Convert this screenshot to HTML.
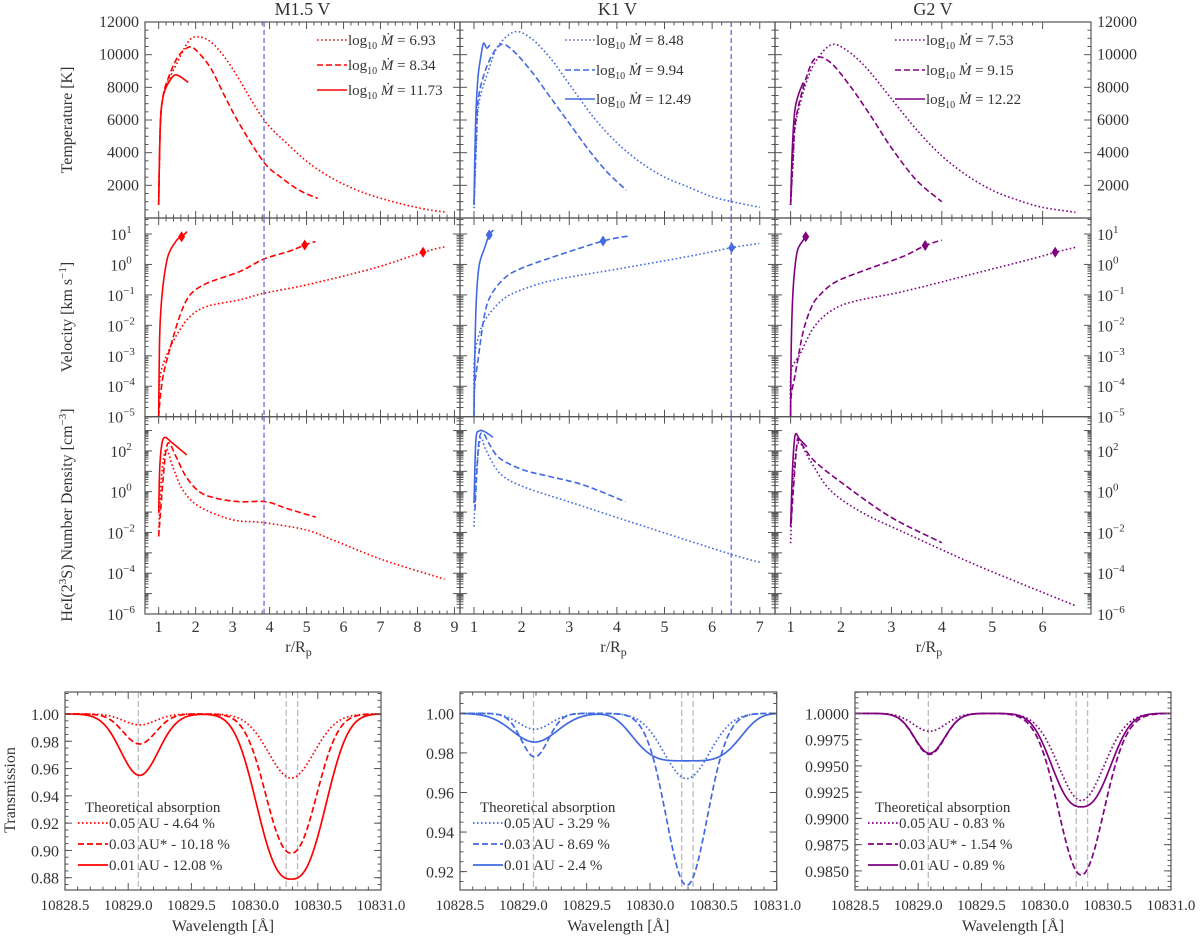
<!DOCTYPE html>
<html><head><meta charset="utf-8"><style>
html,body{margin:0;padding:0;background:#fff}
svg{display:block}
svg text{font-family:"Liberation Serif",serif !important;fill:#333}
</style></head><body>
<svg id="fig" width="1200" height="937" viewBox="0 0 1200 937" xmlns="http://www.w3.org/2000/svg" font-family="Liberation Serif, serif">
<rect width="1200" height="937" fill="#fff"/>
<g id="layer"></g>
</svg>
<script>
// ===== Data: M1.5 V =====
const M_temp_dot_r=[1.0,1.02,1.05,1.1,1.2,1.5,1.8,2.05,2.4,2.8,3.2,3.85,4.5,5.1,5.8,6.6,7.5,8.3,8.8];
const M_temp_dot=[800,3500,6000,7200,8100,9500,10800,11100,10800,9800,8400,6000,4500,3300,2300,1500,900,500,350];
const M_temp_dash_r=[1.0,1.02,1.05,1.1,1.2,1.5,1.8,2.0,2.4,2.8,3.2,3.85,4.3,4.8,5.3];
const M_temp_dash=[800,3500,6000,7200,8200,9800,10450,10300,9200,7400,5700,3400,2500,1700,1200];
const M_temp_sol_r=[1.0,1.02,1.05,1.1,1.2,1.4,1.55,1.8];
const M_temp_sol=[800,3500,6000,7200,8000,8700,8700,8300];
const M_vel_sol_r=[1.0,1.02,1.05,1.13,1.26,1.49,1.62,1.77];
const M_vel_sol=[-5,-2.75,-1.66,-0.56,0.31,0.8,0.91,1.08];
const M_vel_dash_r=[1.0,1.04,1.13,1.31,1.58,1.85,2.3,3.2,3.83,4.55,4.95,5.24];
const M_vel_dash=[-5,-4.4,-3.6,-2.75,-1.66,-1.0,-0.62,-0.23,0.17,0.44,0.64,0.75];
const M_vel_dot_r=[1.0,1.05,1.22,1.49,1.85,2.3,3.2,3.83,5.0,6.8,8.15,8.74];
const M_vel_dot=[-4.5,-3.6,-2.97,-2.31,-1.71,-1.38,-1.16,-0.95,-0.67,-0.13,0.4,0.58];
const M_sonic_r=[1.62,4.95,8.15];
const M_sonic=[0.91,0.64,0.4];
const M_den_sol_r=[1.0,1.03,1.09,1.17,1.33,1.76];
const M_den_sol=[-1.04,1.23,2.38,2.67,2.46,1.8];
const M_den_dash_r=[1.0,1.11,1.2,1.29,1.47,1.74,2.1,2.55,3.18,3.9,4.44,5.25];
const M_den_dash=[-2.2,0.43,2.05,2.38,1.72,0.74,0.0,-0.32,-0.49,-0.49,-0.81,-1.25];
const M_den_dot_r=[1.0,1.08,1.2,1.38,1.65,2.1,3.0,3.81,4.98,5.7,7.06,8.73];
const M_den_dot=[-1.95,0.8,2.1,1.23,0.09,-0.73,-1.38,-1.51,-1.87,-2.36,-3.34,-4.29];
// ===== Data: K1 V =====
const K_temp_dot_r=[1.0,1.05,1.1,1.3,1.5,1.85,2.2,2.6,3.0,3.5,4.0,4.5,5.0,5.5,6.0,6.5,7.0];
const K_temp_dot=[600,4500,7000,9000,10500,11400,11000,9800,8200,6200,4600,3400,2500,1900,1300,950,650];
const K_temp_dash_r=[1.0,1.05,1.1,1.3,1.55,1.8,2.2,2.6,3.0,3.4,3.8,4.2];
const K_temp_dash=[800,5000,7500,9500,10600,10300,9000,7400,5800,4200,2800,1700];
const K_temp_sol_r=[1.0,1.03,1.08,1.15,1.2,1.27,1.33];
const K_temp_sol=[800,5500,8500,10000,10700,10400,10600];
const K_vel_sol_r=[1.0,1.02,1.05,1.11,1.22,1.32,1.41];
const K_vel_sol=[-5,-2.75,-1.11,-0.02,0.53,0.97,1.13];
const K_vel_dash_r=[1.0,1.01,1.08,1.22,1.36,1.64,1.99,2.69,3.71,4.23];
const K_vel_dash=[-5,-4.06,-3.19,-1.66,-1.0,-0.45,-0.13,0.26,0.77,0.93];
const K_vel_dot_r=[1.0,1.01,1.15,1.36,1.64,1.99,2.69,4.09,5.49,6.41,6.99];
const K_vel_dot=[-4.6,-3.08,-2.09,-1.55,-1.11,-0.84,-0.51,-0.13,0.26,0.55,0.69];
const K_sonic_r=[1.32,3.71,6.41];
const K_sonic=[0.97,0.77,0.55];
const K_den_sol_r=[1.0,1.04,1.11,1.22,1.4];
const K_den_sol=[-0.56,2.54,2.98,2.95,2.67];
const K_den_dash_r=[1.02,1.1,1.19,1.33,1.54,2.03,2.6,3.3,4.18];
const K_den_dash=[-0.9,2.38,2.87,2.3,1.64,1.07,0.74,0.33,-0.49];
const K_den_dot_r=[1.0,1.05,1.14,1.25,1.54,2.03,3.08,4.48,6.37,7.0];
const K_den_dot=[-1.71,1.0,2.62,2.05,0.91,0.25,-0.56,-1.63,-3.05,-3.46];
// ===== Data: G2 V =====
const G_temp_dot_r=[1.0,1.05,1.1,1.3,1.5,1.8,2.1,2.5,3.0,3.5,4.0,4.5,5.0,5.5,6.0,6.65];
const G_temp_dot=[800,3500,5800,8200,9600,10600,10300,9200,7300,5400,3800,2600,1700,1100,650,350];
const G_temp_dash_r=[1.0,1.05,1.1,1.3,1.5,1.8,2.2,2.6,3.0,3.5,4.0];
const G_temp_dash=[800,3800,6000,8500,9800,9500,8000,6200,4300,2300,1000];
const G_temp_sol_r=[1.0,1.03,1.08,1.15,1.25];
const G_temp_sol=[800,4000,6500,7500,8300];
const G_vel_sol_r=[1.0,1.01,1.04,1.09,1.15,1.3,1.33];
const G_vel_sol=[-5,-2.9,-1.11,-0.02,0.53,0.91,0.97];
const G_vel_dash_r=[1.0,1.01,1.09,1.25,1.42,1.58,1.91,2.57,3.23,3.67,4.0];
const G_vel_dash=[-5,-4.33,-3.62,-2.2,-1.38,-1.0,-0.56,-0.13,0.26,0.62,0.8];
const G_vel_dot_r=[1.0,1.01,1.18,1.45,1.78,2.24,3.23,4.55,5.87,6.25,6.65];
const G_vel_dot=[-4.8,-3.51,-2.97,-2.09,-1.55,-1.22,-0.89,-0.34,0.22,0.4,0.56];
const G_sonic_r=[1.3,3.67,6.25];
const G_sonic=[0.91,0.62,0.4];
const G_den_sol_r=[1.0,1.04,1.09,1.18,1.32];
const G_den_sol=[-1.71,1.23,2.78,2.57,2.21];
const G_den_dash_r=[1.01,1.12,1.18,1.45,1.98,2.97,4.0];
const G_den_dash=[-1.5,2.21,2.45,1.56,0.5,-1.22,-2.5];
const G_den_dot_r=[1.0,1.05,1.15,1.38,1.78,2.44,3.43,4.75,6.66];
const G_den_dot=[-2.53,0.5,2.38,1.56,0.09,-1.05,-2.2,-3.67,-5.6];
// ===== Transmission line parameters (per series: dotted, dashed, solid) =====
const lineCenters=[10829.09,10830.29];
const markerLines=[10829.08,10830.25,10830.34];
const M_depthWeak=[0.008,0.022,0.045];
const M_depthStrong=[0.047,0.102,0.121];
const M_fwhmWeak=[0.3,0.3,0.35];
const M_fwhmStrong=[0.42,0.45,0.58];
const M_shape=[2,2.2,2.6];
const K_depthWeak=[0.008,0.022,0.0145];
const K_depthStrong=[0.033,0.087,0.024];
const K_fwhmWeak=[0.3,0.25,0.42];
const K_fwhmStrong=[0.42,0.38,0.85];
const K_shape=[2,2,4];
const P_depthWeak=[0.0017,0.0039,0.0038];
const P_depthStrong=[0.0083,0.0154,0.0089];
const P_fwhmWeak=[0.3,0.28,0.28];
const P_fwhmStrong=[0.42,0.42,0.5];
const P_shape=[2,2,2.5];
const M_legend=["0.05 AU - 4.64 %","0.03 AU* - 10.18 %","0.01 AU - 12.08 %"];
const K_legend=["0.05 AU - 3.29 %","0.03 AU - 8.69 %","0.01 AU - 2.4 %"];
const P_legend=["0.05 AU - 0.83 %","0.03 AU* - 1.54 %","0.01 AU - 0.89 %"];
const mdotM=["6.93","8.34","11.73"];
const mdotK=["8.48","9.94","12.49"];
const mdotG=["7.53","9.15","12.22"];
const titles=["M1.5 V","K1 V","G2 V"];
const tempTicks=[2000,4000,6000,8000,10000,12000];
const velTicks=[1,0,-1,-2,-3,-4,-5];
const denTicks=[2,0,-2,-4,-6];

const NS="http://www.w3.org/2000/svg";
const layer=document.getElementById('layer');
function mk(tag,attrs,parent){const e=document.createElementNS(NS,tag);for(const k in attrs)e.setAttribute(k,attrs[k]);(parent||layer).appendChild(e);return e;}
const AX="#555";
const RED="#ff0000",BLUE="#4169e1",PUR="#800080";
const DASH={dot:"1.6,2.4",dash:"6,3",sol:"none"};

function scales(o){
  o.sx=v=>o.x0+(v-o.xmin)/(o.xmax-o.xmin)*(o.x1-o.x0);
  o.sy=v=>o.y1-(v-o.ymin)/(o.ymax-o.ymin)*(o.y1-o.y0);
  return o;
}
function frame(o,name){
  const r=mk('rect',{x:o.x0,y:o.y0,width:o.x1-o.x0,height:o.y1-o.y0,fill:'none',stroke:AX,'stroke-width':1.2});
  
  
}
function tick(x1,y1,x2,y2){mk('line',{x1,y1,x2,y2,stroke:AX,'stroke-width':1});}
function xTicks(o,majors,minors,both){
  majors.forEach(v=>{const x=o.sx(v);tick(x,o.y1,x,o.y1-7);if(both)tick(x,o.y0,x,o.y0+7);});
  minors.forEach(v=>{const x=o.sx(v);tick(x,o.y1,x,o.y1-3.5);if(both)tick(x,o.y0,x,o.y0+3.5);});
}
function yTicks(o,majors,minors,both){
  majors.forEach(v=>{const y=o.sy(v);tick(o.x0,y,o.x0+7,y);if(both)tick(o.x1,y,o.x1-7,y);});
  minors.forEach(v=>{const y=o.sy(v);tick(o.x0,y,o.x0+3.5,y);if(both)tick(o.x1,y,o.x1-3.5,y);});
}
function range(a,b,s){const r=[];for(let v=a;v<=b+1e-9;v+=s)r.push(+v.toFixed(6));return r;}
function logMinors(lo,hi){const r=[];for(let d=Math.floor(lo);d<hi;d++)for(let k=2;k<=9;k++){const v=d+Math.log10(k);if(v>lo&&v<hi)r.push(v);}return r;}
function path(o,xs,ys,color,dash,name){
  const pts=xs.map((x,i)=>[o.sx(x),o.sy(ys[i])]);
  let d="M"+pts[0][0].toFixed(2)+","+pts[0][1].toFixed(2);
  for(let i=0;i<pts.length-1;i++){
    const p0=pts[Math.max(0,i-1)],p1=pts[i],p2=pts[i+1],p3=pts[Math.min(pts.length-1,i+2)];
    const t=0.16;
    const c1=[p1[0]+(p2[0]-p0[0])*t,p1[1]+(p2[1]-p0[1])*t];
    const c2=[p2[0]-(p3[0]-p1[0])*t,p2[1]-(p3[1]-p1[1])*t];
    d+=` C${c1[0].toFixed(2)},${c1[1].toFixed(2)} ${c2[0].toFixed(2)},${c2[1].toFixed(2)} ${p2[0].toFixed(2)},${p2[1].toFixed(2)}`;
  }
  const attrs={d,fill:'none',stroke:color,'stroke-width':1.6};
  if(dash!=="none")attrs['stroke-dasharray']=dash;
  const e=mk('path',attrs);
  
  
}
function txt(x,y,s,opts,name){
  const e=mk('text',Object.assign({x,y,'font-size':16},opts||{}));e.textContent=s;
  
  
  return e;
}
function powLabel(x,y,exp,anchor,name){
  const e=mk('text',{x,y,'font-size':16,'text-anchor':anchor});
  
  
  const t1=mk('tspan',{},e);t1.textContent="10";
  const t2=mk('tspan',{dy:-7,'font-size':11},e);t2.textContent=(exp<0?"\u2212":"")+Math.abs(exp);
  return e;
}

// ===== Top grid =====
const cols=[
 {x0:145,x1:460,xmin:0.63,xmax:9.15,xt:range(1,9,1),key:'M',color:RED},
 {x0:460,x1:775,xmin:0.706,xmax:7.32,xt:range(1,7,1),key:'K',color:BLUE},
 {x0:775,x1:1091,xmin:0.69,xmax:6.96,xt:range(1,6,1),key:'G',color:PUR}
];
const rows=[
 {y0:22,y1:218,ymin:0,ymax:12000,kind:'temp'},
 {y0:218,y1:416.7,ymin:-5,ymax:1.525,kind:'vel'},
 {y0:416.7,y1:614,ymin:-6,ymax:3.68,kind:'den'}
];
const series={
 M:{temp:[[M_temp_dot_r,M_temp_dot],[M_temp_dash_r,M_temp_dash],[M_temp_sol_r,M_temp_sol]],
    vel:[[M_vel_dot_r,M_vel_dot],[M_vel_dash_r,M_vel_dash],[M_vel_sol_r,M_vel_sol]],
    den:[[M_den_dot_r,M_den_dot],[M_den_dash_r,M_den_dash],[M_den_sol_r,M_den_sol]],
    sonic:[M_sonic_r,M_sonic],mdot:mdotM,vline:3.85},
 K:{temp:[[K_temp_dot_r,K_temp_dot],[K_temp_dash_r,K_temp_dash],[K_temp_sol_r,K_temp_sol]],
    vel:[[K_vel_dot_r,K_vel_dot],[K_vel_dash_r,K_vel_dash],[K_vel_sol_r,K_vel_sol]],
    den:[[K_den_dot_r,K_den_dot],[K_den_dash_r,K_den_dash],[K_den_sol_r,K_den_sol]],
    sonic:[K_sonic_r,K_sonic],mdot:mdotK,vline:6.4},
 G:{temp:[[G_temp_dot_r,G_temp_dot],[G_temp_dash_r,G_temp_dash],[G_temp_sol_r,G_temp_sol]],
    vel:[[G_vel_dot_r,G_vel_dot],[G_vel_dash_r,G_vel_dash],[G_vel_sol_r,G_vel_sol]],
    den:[[G_den_dot_r,G_den_dot],[G_den_dash_r,G_den_dash],[G_den_sol_r,G_den_sol]],
    sonic:[G_sonic_r,G_sonic],mdot:mdotG,vline:null}
};
const styles=['dot','dash','sol'];
cols.forEach((c,ci)=>{
  const S=series[c.key];
  txt((c.x0+c.x1)/2,15,titles[ci],{'text-anchor':'middle','font-size':18},'panel-title-'+c.key);
  rows.forEach((rw,ri)=>{
    const o=scales({x0:c.x0,x1:c.x1,xmin:c.xmin,xmax:c.xmax,y0:rw.y0,y1:rw.y1,ymin:rw.ymin,ymax:rw.ymax});
    frame(o,rw.kind+'-panel-'+c.key);
    xTicks(o,c.xt,range(1,Math.floor(c.xmax),0.2).filter(v=>Math.abs(v-Math.round(v))>1e-6&&v<c.xmax),true);
    if(rw.kind==='temp'){
      yTicks(o,tempTicks,range(500,11500,500).filter(v=>v%2000!==0),true);
    }else{
      yTicks(o,range(Math.ceil(rw.ymin),Math.floor(rw.ymax),1),logMinors(rw.ymin,rw.ymax),true);
    }
    if(rw.kind==='temp'){
      tempTicks.forEach(v=>{
        if(ci===0)txt(o.x0-6,o.sy(v)+5,String(v),{'text-anchor':'end'},'temp-tick-left');
        if(ci===2)txt(o.x1+6,o.sy(v)+5,String(v),{},'temp-tick-right');
      });
    }else{
      const tk=rw.kind==='vel'?velTicks:denTicks;
      tk.forEach(v=>{
        if(ci===0)powLabel(o.x0-24,o.sy(v)+6,v,'middle',rw.kind+'-tick-left');
        if(ci===2)powLabel(o.x1+6,o.sy(v)+6,v,'start',rw.kind+'-tick-right');
      });
    }
    if(ri===2){
      c.xt.forEach(v=>txt(o.sx(v),632,String(v),{'text-anchor':'middle'},'r-tick-'+c.key));
    }
    const cid='clip'+ci+ri;
    const cp=mk('clipPath',{id:cid});mk('rect',{x:o.x0,y:o.y0,width:o.x1-o.x0,height:o.y1-o.y0},cp);
    const g=mk('g',{'clip-path':`url(#${cid})`});
    S[rw.kind].forEach((sd,si)=>{
      path(o,sd[0],sd[1],c.color,DASH[styles[si]],rw.kind+'-'+styles[si]+'-'+c.key);
      g.appendChild(layer.lastChild);
    });
    if(rw.kind==='vel'){
      S.sonic[0].forEach((r,i)=>{
        const x=o.sx(r),y=o.sy(S.sonic[1][i]);
        const d=mk('path',{d:`M${x},${y-5.5} L${x+3.5},${y} L${x},${y+5.5} L${x-3.5},${y} Z`,fill:c.color});
        
        
      });
    }
    if(S.vline!==null){
      const x=o.sx(S.vline);
      const l=mk('line',{x1:x,y1:o.y0,x2:x,y2:o.y1,stroke:'#6a6ad8','stroke-width':1.3,'stroke-dasharray':'5,3'});
      
      
    }
  });
  const rl=mk('text',{x:(c.x0+c.x1)/2-4,y:652,'font-size':16,'text-anchor':'middle'});
  
  
  const a=mk('tspan',{},rl);a.textContent='r/R';
  const b=mk('tspan',{dy:4,'font-size':12},rl);b.textContent='p';
  const lx={M:317,K:565,G:895}[c.key], ly={M:[45,70,95],K:[45,75,104],G:[45,75,104]}[c.key];
  S.mdot.forEach((m,i)=>{
    const l=mk('line',{x1:lx,y1:ly[i]-5,x2:lx+30,y2:ly[i]-5,stroke:c.color,'stroke-width':1.6});
    if(DASH[styles[i]]!=='none')l.setAttribute('stroke-dasharray',DASH[styles[i]]);
    
    
    const t=mk('text',{x:lx+31,y:ly[i],'font-size':15});
    
    
    const t1=mk('tspan',{},t);t1.textContent='log';
    const t2=mk('tspan',{dy:4,'font-size':10},t);t2.textContent='10';
    const t3=mk('tspan',{dy:-4,'font-style':'italic'},t);t3.textContent=' \u1E40';
    const t4=mk('tspan',{},t);t4.textContent=' = '+m;
  });
});
[[72,120,'Temperature [K]','temp-axis-title'],[72,317,null,'vel-axis-title'],[72,515,null,'den-axis-title']].forEach(a=>{
  const t=mk('text',{x:0,y:0,'font-size':16,'text-anchor':'middle',transform:`translate(${a[0]},${a[1]}) rotate(-90)`});
  
  
  if(a[2]){t.textContent=a[2];}
  else if(a[3]==='vel-axis-title'){
    const s1=mk('tspan',{},t);s1.textContent='Velocity [km s';
    const s2=mk('tspan',{dy:-6,'font-size':11},t);s2.textContent='\u22121';
    const s3=mk('tspan',{dy:6},t);s3.textContent=']';
  }else{
    const s1=mk('tspan',{},t);s1.textContent='HeI(2';
    const s2=mk('tspan',{dy:-6,'font-size':11},t);s2.textContent='3';
    const s3=mk('tspan',{dy:6},t);s3.textContent='S) Number Density [cm';
    const s4=mk('tspan',{dy:-6,'font-size':11},t);s4.textContent='\u22123';
    const s5=mk('tspan',{dy:6},t);s5.textContent=']';
  }
});

// ===== Bottom transmission panels =====
const bots=[
 {x0:65,x1:381,ymin:0.8710,ymax:1.0161,yt:[0.88,0.90,0.92,0.94,0.96,0.98,1.00],ym:0.005,dec:2,color:RED,
  dw:M_depthWeak,ds:M_depthStrong,fw:M_fwhmWeak,fs:M_fwhmStrong,sh:M_shape,leg:M_legend,key:'M'},
 {x0:460,x1:776.7,ymin:0.9107,ymax:1.0108,yt:[0.92,0.94,0.96,0.98,1.00],ym:0.005,dec:2,color:BLUE,
  dw:K_depthWeak,ds:K_depthStrong,fw:K_fwhmWeak,fs:K_fwhmStrong,sh:K_shape,leg:K_legend,key:'K'},
 {x0:855,x1:1171,ymin:0.98318,ymax:1.00204,yt:[0.985,0.9875,0.99,0.9925,0.995,0.9975,1.0],ym:0.0005,dec:4,color:PUR,
  dw:P_depthWeak,ds:P_depthStrong,fw:P_fwhmWeak,fs:P_fwhmStrong,sh:P_shape,leg:P_legend,key:'G'}
];
function prof(l,b,i){
  const g1=Math.exp(-Math.LN2*Math.pow(Math.abs(2*(l-lineCenters[0])/b.fw[i]),2));
  const g2=Math.exp(-Math.LN2*Math.pow(Math.abs(2*(l-lineCenters[1])/b.fs[i]),b.sh[i]));
  return 1-b.dw[i]*g1-b.ds[i]*g2;
}
bots.forEach((b,bi)=>{
  const o=scales({x0:b.x0,x1:b.x1,y0:692,y1:890,xmin:10828.5,xmax:10831.0,ymin:b.ymin,ymax:b.ymax});
  markerLines.forEach(w=>{
    const l=mk('line',{x1:o.sx(w),y1:o.y0,x2:o.sx(w),y2:o.y1,stroke:'#bbb','stroke-width':1.3,'stroke-dasharray':'6,3'});
    
    
  });
  const N=250;
  [0,1,2].forEach(i=>{
    let d='';
    for(let k=0;k<=N;k++){const l=10828.5+2.5*k/N;d+=(k?'L':'M')+o.sx(l).toFixed(2)+','+o.sy(prof(l,b,i)).toFixed(2);}
    const attrs={d,fill:'none',stroke:b.color,'stroke-width':1.7};
    if(DASH[styles[i]]!=='none')attrs['stroke-dasharray']=styles[i]==='dot'?'1.6,2.4':'6,3';
    const p=mk('path',attrs);
    
    
  });
  frame(o,'transmission-panel-'+b.key);
  xTicks(o,range(10828.5,10831,0.5),range(10828.5,10831,0.1).filter(v=>Math.abs((v-10828.5)/0.5-Math.round((v-10828.5)/0.5))>1e-4),true);
  const ymins=[];for(let v=Math.ceil(b.ymin/b.ym)*b.ym;v<b.ymax;v+=b.ym)ymins.push(v);
  yTicks(o,b.yt,ymins,true);
  b.yt.forEach(v=>txt(o.x0-6,o.sy(v)+6,v.toFixed(b.dec),{'text-anchor':'end','font-size':16},'transmission-tick'));
  range(10828.5,10831,0.5).forEach(v=>txt(o.sx(v),910,v.toFixed(1),{'text-anchor':'middle','font-size':15},'wavelength-tick'));
  txt((o.x0+o.x1)/2,931,'Wavelength [\u00C5]',{'text-anchor':'middle','font-size':16},'wavelength-axis-title');
  const lx=o.x0+13;
  txt(lx+7,812,'Theoretical absorption',{'font-size':15},'legend-title');
  [828,849,870].forEach((y,i)=>{
    const l=mk('line',{x1:lx,y1:y-5,x2:lx+30,y2:y-5,stroke:b.color,'stroke-width':1.7});
    if(DASH[styles[i]]!=='none')l.setAttribute('stroke-dasharray',styles[i]==='dot'?'1.6,2.4':'6,3');
    
    
    txt(lx+31,y,b.leg[i],{'font-size':15},'legend-entry');
  });
});
const tt=mk('text',{x:0,y:0,'font-size':16,'text-anchor':'middle',transform:'translate(15,790) rotate(-90)'});
tt.textContent='Transmission';


</script>
</body></html>
